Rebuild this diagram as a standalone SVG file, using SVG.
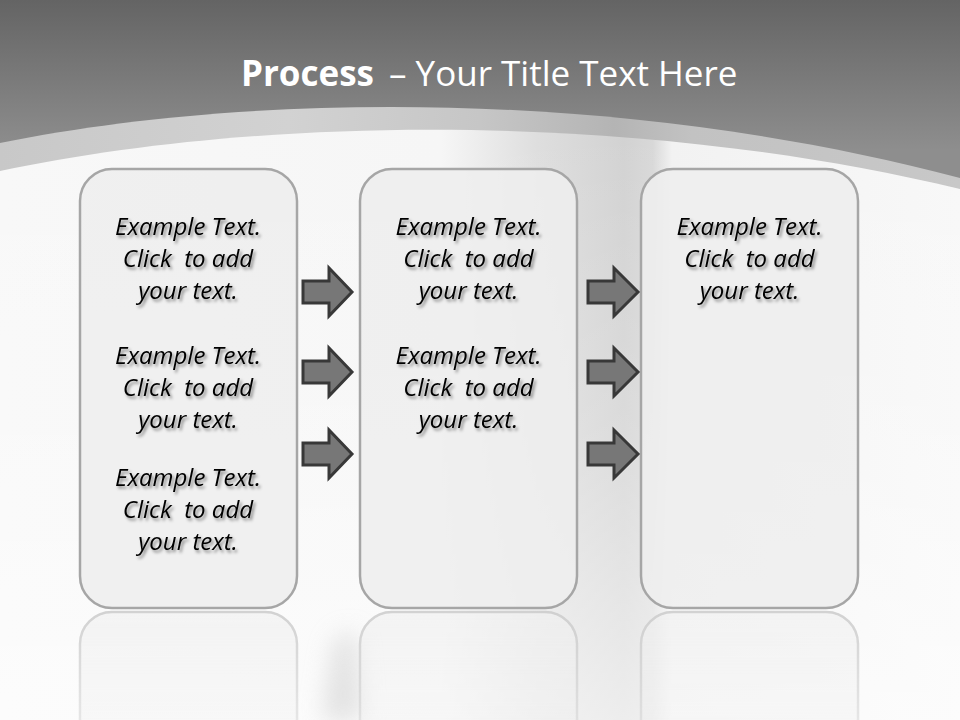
<svg xmlns="http://www.w3.org/2000/svg" width="960" height="720" viewBox="0 0 960 720">
  <defs>
    <linearGradient id="topBg" gradientUnits="userSpaceOnUse" x1="0" y1="0" x2="0" y2="150">
      <stop offset="0" stop-color="#646464"/>
      <stop offset="1" stop-color="#8e8e8e"/>
    </linearGradient>
    <linearGradient id="bandFill" gradientUnits="userSpaceOnUse" x1="0" y1="0" x2="960" y2="0">
      <stop offset="0" stop-color="#c8c8c8"/>
      <stop offset="0.3" stop-color="#d2d2d2"/>
      <stop offset="0.5" stop-color="#c6c6c6"/>
      <stop offset="0.64" stop-color="#b4b4b4"/>
      <stop offset="0.72" stop-color="#c2c2c2"/>
      <stop offset="1" stop-color="#c8c8c8"/>
    </linearGradient>
    <linearGradient id="whiteFill" gradientUnits="userSpaceOnUse" x1="0" y1="0" x2="960" y2="0">
      <stop offset="0" stop-color="#f8f8f8"/>
      <stop offset="0.46" stop-color="#f6f6f6"/>
      <stop offset="0.56" stop-color="#dedede"/>
      <stop offset="0.65" stop-color="#d2d2d2"/>
      <stop offset="0.68" stop-color="#d8d8d8"/>
      <stop offset="0.70" stop-color="#f2f2f2"/>
      <stop offset="1" stop-color="#f8f8f8"/>
    </linearGradient>
    <linearGradient id="fadeV" x1="0" y1="0" x2="0" y2="1">
      <stop offset="0" stop-color="#fff" stop-opacity="0"/>
      <stop offset="0.5" stop-color="#fff" stop-opacity="0.2"/>
      <stop offset="1" stop-color="#fff" stop-opacity="0.6"/>
    </linearGradient>
    <linearGradient id="reflFade" gradientUnits="userSpaceOnUse" x1="0" y1="612" x2="0" y2="760">
      <stop offset="0" stop-color="#fff" stop-opacity="0.9"/>
      <stop offset="1" stop-color="#fff" stop-opacity="0.3"/>
    </linearGradient>
    <mask id="reflMask" maskUnits="userSpaceOnUse" x="0" y="600" width="960" height="120">
      <rect x="0" y="600" width="960" height="120" fill="url(#reflFade)"/>
    </mask>
    <filter id="blur" x="-100%" y="-50%" width="300%" height="200%">
      <feGaussianBlur stdDeviation="12"/>
    </filter>
    <filter id="tshadow" x="-10%" y="-30%" width="120%" height="160%">
      <feDropShadow dx="2" dy="2.5" stdDeviation="1.6" flood-color="#000" flood-opacity="0.45"/>
    </filter>
    <style>
      .box { fill: #eeeeee; fill-opacity: 0.88; stroke: #a6a6a6; stroke-width: 2.5; }
      .refl { fill: #f0f0f0; fill-opacity: 0.7; stroke: #cdcdcd; stroke-width: 2.5; }
      .arrow { fill: #777777; stroke: #383838; stroke-width: 3; stroke-linejoin: miter; }
      .body { font-family: "Open Sans", "Liberation Sans", sans-serif; font-style: italic; font-size: 24px; fill: #000; text-anchor: middle; white-space: pre; }
      .title { font-family: "Open Sans", "Liberation Sans", sans-serif; fill: #ffffff; font-size: 35px; }
    </style>
  </defs>

  <!-- background -->
  <rect x="0" y="0" width="960" height="720" fill="url(#topBg)"/>
  <path d="M0,143 C250,92 620,88 960,178 L960,720 L0,720 Z" fill="url(#bandFill)"/>
  <path d="M0,171 C250,118 620,108 960,189 L960,720 L0,720 Z" fill="url(#whiteFill)"/>
  <path d="M0,171 C250,118 620,108 960,189 L960,720 L0,720 Z" fill="url(#fadeV)"/>
  <path d="M335,640 L355,630 L362,720 L322,720 Z" fill="#d6d6d6" opacity="0.7" filter="url(#blur)"/>

  <!-- title -->
  <g id="title">
    <text class="title" x="241" y="86" font-weight="bold">Process</text>
    <text class="title" x="389" y="86">– Your Title Text Here</text>
  </g>

  <!-- reflections -->
  <g id="reflections" mask="url(#reflMask)">
    <rect class="refl" x="80" y="612" width="217" height="439" rx="32" ry="32"/>
    <rect class="refl" x="360" y="612" width="217" height="439" rx="32" ry="32"/>
    <rect class="refl" x="641" y="612" width="217" height="439" rx="32" ry="32"/>
  </g>

  <!-- nodes -->
  <g id="box1">
    <rect class="box" x="80" y="169" width="217" height="439" rx="32" ry="32"/>
    <g filter="url(#tshadow)">
      <text class="body" x="188" y="235">Example Text.</text>
      <text class="body" x="188" y="267">Click  to add</text>
      <text class="body" x="188" y="299">your text.</text>
      <text class="body" x="188" y="364">Example Text.</text>
      <text class="body" x="188" y="396">Click  to add</text>
      <text class="body" x="188" y="428">your text.</text>
      <text class="body" x="188" y="486">Example Text.</text>
      <text class="body" x="188" y="518">Click  to add</text>
      <text class="body" x="188" y="550">your text.</text>
    </g>
  </g>
  <g id="box2">
    <rect class="box" x="360" y="169" width="217" height="439" rx="32" ry="32"/>
    <g filter="url(#tshadow)">
      <text class="body" x="468.5" y="235">Example Text.</text>
      <text class="body" x="468.5" y="267">Click  to add</text>
      <text class="body" x="468.5" y="299">your text.</text>
      <text class="body" x="468.5" y="364">Example Text.</text>
      <text class="body" x="468.5" y="396">Click  to add</text>
      <text class="body" x="468.5" y="428">your text.</text>
    </g>
  </g>
  <g id="box3">
    <rect class="box" x="641" y="169" width="217" height="439" rx="32" ry="32"/>
    <g filter="url(#tshadow)">
      <text class="body" x="749.5" y="235">Example Text.</text>
      <text class="body" x="749.5" y="267">Click  to add</text>
      <text class="body" x="749.5" y="299">your text.</text>
    </g>
  </g>

  <!-- connectors -->
  <g id="connectors">
    <path class="arrow" d="M303,281 H329 V268 L352,292 L329,316 V303 H303 Z"/>
    <path class="arrow" d="M303,361 H329 V348 L352,372 L329,396 V383 H303 Z"/>
    <path class="arrow" d="M303,443 H329 V430 L352,454 L329,478 V465 H303 Z"/>
    <path class="arrow" d="M588,281 H614 V268 L638,292 L614,316 V303 H588 Z"/>
    <path class="arrow" d="M588,361 H614 V348 L638,372 L614,396 V383 H588 Z"/>
    <path class="arrow" d="M588,443 H614 V430 L638,454 L614,478 V465 H588 Z"/>
  </g>
</svg>
